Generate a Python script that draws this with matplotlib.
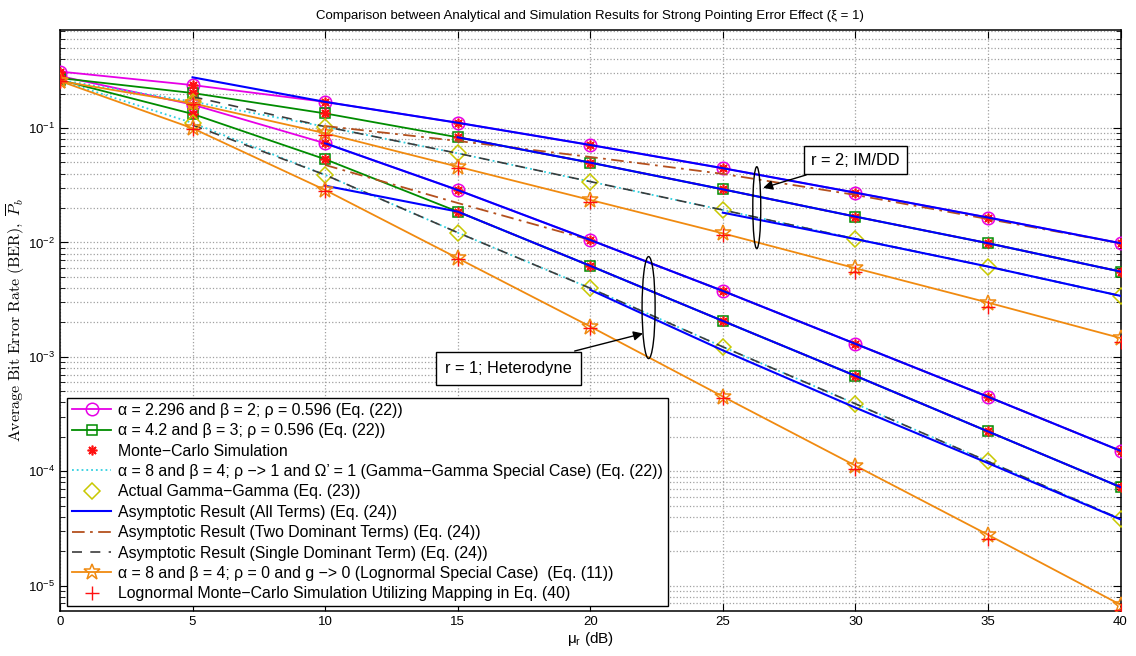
import matplotlib.pyplot as plt
from matplotlib.patches import Ellipse

# average SNR mu_r (dB)
snr_db = [0, 5, 10, 15, 20, 25, 30, 35, 40]

# r = 2 (IM/DD)
ber_a2296_r2 = [0.311, 0.237, 0.169, 0.111, 0.0710, 0.0445, 0.0272, 0.0165, 0.00984]
ber_a42_r2 = [0.273, 0.202, 0.134, 0.0829, 0.0498, 0.0291, 0.0168, 0.00984, 0.00556]
ber_gg_r2 = [0.2625, 0.170, 0.1027, 0.0601, 0.0340, 0.0192, 0.01074, 0.00615, 0.00341]
ber_ln_r2 = [0.257, 0.164, 0.0899, 0.0459, 0.0235, 0.0120, 0.00595, 0.00298, 0.00146]
ber_mc_ln_r2 = [0.255, 0.162, 0.0869, 0.0445, 0.0227, 0.0116, 0.00556, 0.00275, 0.00136]

# r = 1 (heterodyne)
ber_a2296_r1 = [0.284, 0.160, 0.0735, 0.0287, 0.0105, 0.00377, 0.00130, 0.000448, 0.000151]
ber_a42_r1 = [0.2625, 0.1326, 0.0533, 0.01858, 0.00624, 0.00206, 0.000683, 0.000223, 7.28e-5]
ber_gg_r1 = [0.260, 0.1106, 0.0389, 0.01218, 0.00398, 0.001223, 0.000389, 0.000122, 3.83e-5]
ber_ln_r1 = [0.257, 0.0994, 0.0287, 0.00728, 0.00184, 0.00045, 0.000112, 2.79e-5, 6.82e-6]
ber_mc_ln_r1 = [0.255, 0.0980, 0.0280, 0.00710, 0.00180, 0.00044, 0.000104, 2.57e-5, 6.1e-6]

# asymptotic results (all terms)
asy_all_a2296_r2 = [0.277, 0.169, 0.111, 0.0710, 0.0445, 0.0272, 0.0165, 0.00984]   # from 5 dB
asy_all_a42_r2 = [0.0829, 0.0498, 0.0291, 0.0168, 0.00984, 0.00556]                  # from 15 dB
asy_all_gg_r2 = [0.0182, 0.0107, 0.00615, 0.00341]                                   # from 25 dB
asy_all_a2296_r1 = [0.0735, 0.0287, 0.0105, 0.00377, 0.00130, 0.000448, 0.000151]    # from 10 dB
asy_all_a42_r1 = [0.0313, 0.01858, 0.00624, 0.00206, 0.000683, 0.000223, 7.28e-5]    # from 10 dB
asy_all_gg_r1 = [0.00385, 0.00114, 0.000360, 0.000118, 3.8e-5]                        # from 20 dB

# asymptotic results (two dominant terms)
asy_two_a2296_r2 = [0.104, 0.077, 0.0558, 0.0397, 0.0260, 0.0160, 0.00984]           # from 10 dB
asy_two_a42_r2 = [0.0829, 0.0498, 0.0291, 0.0168, 0.00984, 0.00556]                  # from 15 dB
asy_two_a2296_r1 = [0.0475, 0.0221, 0.0105, 0.00377, 0.00130, 0.000448, 0.000151]    # from 10 dB
asy_two_a42_r1 = [0.01858, 0.00624, 0.00206, 0.000683, 0.000223, 7.28e-5]            # from 15 dB

# asymptotic results (single dominant term)
asy_one_gg_r2 = [0.1877, 0.1027, 0.0601, 0.0340, 0.0192, 0.01074, 0.00615, 0.00341]  # from 5 dB
asy_one_gg_r1 = [0.106, 0.0389, 0.01218, 0.00398, 0.001223, 0.000389, 0.000122, 3.83e-5]

MAG = '#e600e6'
GRN = '#008c00'
ORG = '#f08a10'
BLU = '#0000ff'
BRN = '#b4501e'
DSH = '#3c3c3c'
CYN = '#30d0e0'
YEL = '#c8c800'
RED = '#ff1010'
asterisk = (8, 2, 0)

plt.rcParams['font.family'] = ['Liberation Sans', 'DejaVu Sans']
plt.rcParams['mathtext.fontset'] = 'custom'
plt.rcParams['mathtext.rm'] = 'Liberation Sans'
plt.rcParams['mathtext.it'] = 'Liberation Sans:italic'

fig = plt.figure(figsize=(11.36, 6.56), dpi=100)
ax = fig.add_axes([0.0528, 0.069, 0.9336, 0.8853])


def xs_from(start, vals):
    i = snr_db.index(start)
    return snr_db[i:i + len(vals)]


handles = {}
for ber_r2, ber_r1, col, mk, ms in [(ber_a2296_r2, ber_a2296_r1, MAG, 'o', 9),
                                    (ber_a42_r2, ber_a42_r1, GRN, 's', 7)]:
    for ber in (ber_r2, ber_r1):
        h, = ax.semilogy(snr_db, ber, color=col, lw=1.3, marker=mk, ms=ms,
                         mfc='none', mec=col, mew=1.1, zorder=3)
    handles.setdefault(col, h)
    for ber in (ber_r2, ber_r1):
        h_mc, = ax.semilogy(snr_db, ber, ls='none', marker=asterisk, ms=7,
                            color=RED, mew=1.2, zorder=4)
handles['mc'] = h_mc

# gamma-gamma special case and actual gamma-gamma
for ber in (ber_gg_r2, ber_gg_r1):
    h_cy, = ax.semilogy(snr_db, ber, color=CYN, ls=':', lw=1.3, zorder=3)
    h_gg, = ax.semilogy(snr_db[1:], ber[1:], ls='none', marker='D', ms=8, mfc='none',
                        mec=YEL, mew=1.1, zorder=4)

# asymptotes
for start, vals in [(5, asy_one_gg_r2), (5, asy_one_gg_r1)]:
    h_one, = ax.semilogy(xs_from(start, vals), vals, color=DSH, ls=(0, (6, 5)),
                         lw=1.2, zorder=5)
for start, vals in [(10, asy_two_a2296_r2), (15, asy_two_a42_r2),
                    (10, asy_two_a2296_r1), (15, asy_two_a42_r1)]:
    h_two, = ax.semilogy(xs_from(start, vals), vals, color=BRN, ls=(0, (7, 3, 1.5, 3)),
                         lw=1.3, zorder=5)
for start, vals in [(5, asy_all_a2296_r2), (15, asy_all_a42_r2), (25, asy_all_gg_r2),
                    (10, asy_all_a2296_r1), (10, asy_all_a42_r1), (20, asy_all_gg_r1)]:
    h_all, = ax.semilogy(xs_from(start, vals), vals, color=BLU, lw=1.5, zorder=6)

# lognormal special case
for ber, mc in [(ber_ln_r2, ber_mc_ln_r2), (ber_ln_r1, ber_mc_ln_r1)]:
    h_ln, = ax.semilogy(snr_db, ber, color=ORG, lw=1.3, marker='*', ms=12,
                        mfc='none', mec=ORG, mew=1.1, zorder=7)
    h_lmc, = ax.semilogy(snr_db, mc, ls='none', marker='+', ms=10, color=RED,
                         mew=1.0, zorder=8)

ax.set_xlim(0, 40)
ax.set_ylim(6.05e-6, 0.718)
ax.set_xticks(snr_db)
ax.tick_params(which='both', direction='in', top=True, right=True, labelsize=9.5)
ax.tick_params(which='major', length=6)
ax.tick_params(which='minor', length=3.5)
ax.grid(True, which='major', ls=':', color='#a0a0a0', lw=0.9)
ax.grid(True, which='minor', axis='y', ls=':', color='#a0a0a0', lw=0.9)
for s in ax.spines.values():
    s.set_linewidth(1.1)

ax.set_title('Comparison between Analytical and Simulation Results for Strong Pointing Error Effect (ξ = 1)',
             fontsize=9.5, pad=8)
ax.set_xlabel(r'μ$_\mathregular{r}$ (dB)', fontsize=11, labelpad=2)
ax.set_ylabel(r'$\mathrm{Average\ Bit\ Error\ Rate\ (BER)},\ \overline{P}_b$',
              fontsize=11.5, math_fontfamily='cm')
ax.yaxis.set_label_coords(-0.031, 0.5)

# ellipses and annotations
ax.add_patch(Ellipse((0.657, 0.694), 0.0075, 0.141, transform=ax.transAxes,
                     fill=False, ec='k', lw=1, zorder=9))
ax.add_patch(Ellipse((0.555, 0.522), 0.0123, 0.1756, transform=ax.transAxes,
                     fill=False, ec='k', lw=1, zorder=9))
box = dict(boxstyle='square,pad=0.42', fc='white', ec='k', lw=1)
ax.annotate('r = 2; IM/DD', xy=(0.663, 0.728), xycoords='axes fraction',
            xytext=(0.750, 0.776), textcoords='axes fraction', ha='center', va='center',
            fontsize=11.8, bbox=box, zorder=10,
            arrowprops=dict(arrowstyle='-|>', color='k', lw=1, mutation_scale=14,
                            shrinkA=0, shrinkB=0))
ax.annotate('r = 1; Heterodyne', xy=(0.5497, 0.4774), xycoords='axes fraction',
            xytext=(0.4228, 0.4179), textcoords='axes fraction', ha='center', va='center',
            fontsize=11.8, bbox=dict(boxstyle='square,pad=0.55', fc='white', ec='k', lw=1),
            zorder=10,
            arrowprops=dict(arrowstyle='-|>', color='k', lw=1, mutation_scale=14,
                            shrinkA=0, shrinkB=0))

labels = ['α = 2.296 and β = 2; ρ = 0.596 (Eq. (22))',
          'α = 4.2 and β = 3; ρ = 0.596 (Eq. (22))',
          'Monte−Carlo Simulation',
          'α = 8 and β = 4; ρ −> 1 and Ω’ = 1 (Gamma−Gamma Special Case) (Eq. (22))',
          'Actual Gamma−Gamma (Eq. (23))',
          'Asymptotic Result (All Terms) (Eq. (24))',
          'Asymptotic Result (Two Dominant Terms) (Eq. (24))',
          'Asymptotic Result (Single Dominant Term) (Eq. (24))',
          'α = 8 and β = 4; ρ = 0 and g −> 0 (Lognormal Special Case)  (Eq. (11))',
          'Lognormal Monte−Carlo Simulation Utilizing Mapping in Eq. (40)']
leg = ax.legend([handles[MAG], handles[GRN], handles['mc'], h_cy, h_gg, h_all, h_two,
                 h_one, h_ln, h_lmc], labels, loc='lower left',
                bbox_to_anchor=(0.0066, 0.008), borderaxespad=0, fontsize=11.4,
                handlelength=2.5, handletextpad=0.45, labelspacing=0.34,
                borderpad=0.3, fancybox=False, framealpha=1, edgecolor='k')
leg.get_frame().set_linewidth(1)
leg.set_zorder(11)

fig.savefig('out.png', dpi=100)
